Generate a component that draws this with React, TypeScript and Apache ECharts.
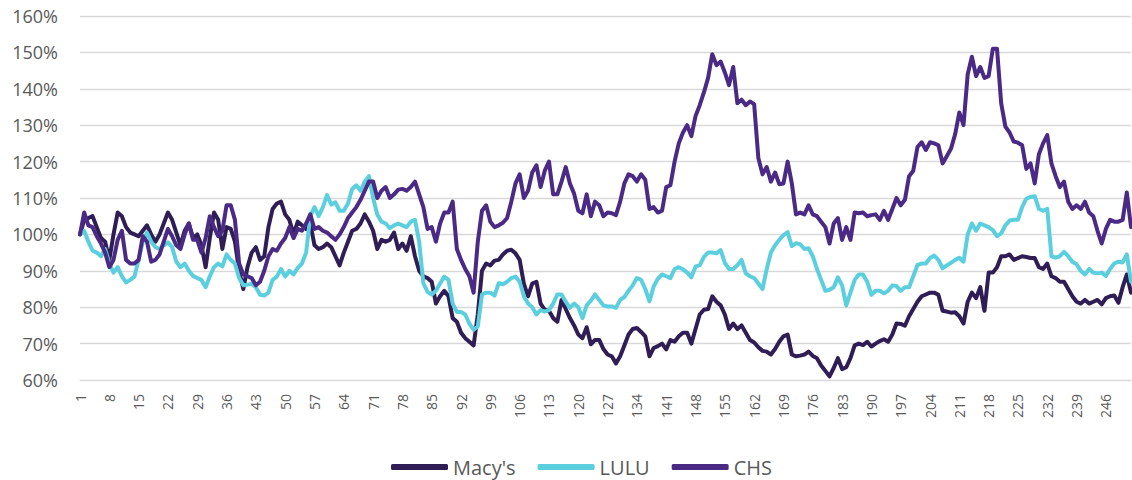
import React, { useEffect, useRef } from "react";
import * as echarts from "echarts";

const categories: string[] = Array.from({ length: 252 }, (_, i) => String(i + 1));

const macys: number[] = [
  100, 104, 104.5, 105, 102, 99, 98, 93, 100, 106,
  105, 102, 100.5, 100, 99.5, 101, 102.5, 100, 98, 100,
  103, 106, 104, 100.5, 97, 101, 103, 99, 100, 97,
  91, 99, 106, 104, 96, 102, 101.5, 98, 90, 85,
  91, 95, 96.5, 93, 94, 102, 107, 108.5, 109, 105.5,
  104, 100, 103.5, 102.5, 101.5, 103, 97, 96, 96.5, 97.5,
  96.5, 94, 91.5, 95, 98, 101, 101.5, 103, 105.5, 103.5,
  101, 96, 98.5, 98, 98.5, 100.5, 96, 97.5, 95.5, 99.5,
  94, 90, 88.5, 88, 87, 81, 83, 84.5, 83, 77,
  76, 73, 71.5, 70.5, 69.5, 78, 90, 92, 91.5, 92.8,
  93, 94.5, 95.5, 95.8, 94.8, 93, 86.5, 83, 86.5, 87,
  81, 79.3, 79, 77, 76, 82, 79.5, 77, 75, 72.5,
  71.5, 74.5, 69.8, 71, 71, 68.5, 67, 66.5, 64.5, 66.5,
  69.5, 72.5, 74, 74.3, 73.2, 72, 66.5, 68.8, 69.3, 70,
  68.4, 71, 70.5, 72, 73, 73, 70, 74, 78, 79.3,
  79.5, 83, 81.5, 80.5, 78, 74, 75.5, 74, 75, 73,
  71, 70.3, 69, 68, 67.8, 67, 68.5, 70.5, 72, 72.5,
  67, 66.5, 66.7, 67, 67.8, 66.6, 66, 64, 62.5, 61,
  63.3, 66, 63, 63.5, 66, 69.5, 70, 69.6, 70.5, 69.2,
  70, 70.7, 71.2, 70.5, 72.5, 75.5, 75.4, 74.9, 77.5, 79.5,
  81.5, 83, 83.5, 84, 84, 83.4, 79, 78.8, 78.5, 78.6,
  77.5, 75.5, 81.5, 84, 82.5, 85.5, 79, 89.5, 89.5, 91,
  94, 94, 94.5, 93, 93.5, 94, 93.8, 93.5, 93.5, 91,
  90.5, 92, 88.5, 88, 87, 87, 85, 83, 81.5, 81,
  82, 81, 81.5, 82, 80.8, 82.5, 83, 83.2, 81.2, 85.5,
  89, 84
];

const lulu: number[] = [
  100, 101, 98, 95.5, 95, 94, 96, 92, 89.5, 91,
  88.5, 86.8, 87.5, 88.4, 93, 98, 100.5, 98, 96.5, 96,
  97, 97.8, 96.5, 92.5, 91, 92, 90, 88.6, 88, 87.5,
  85.5, 88.5, 91, 92, 91.2, 94.5, 93, 92, 88, 86,
  86.2, 86.4, 85.5, 83.4, 83.2, 84, 87.5, 88.4, 90.5, 88.4,
  90, 89, 90.8, 92, 95, 105, 107.5, 105, 107.5, 110.8,
  108.2, 108.8, 106.5, 106.5, 108.5, 112.5, 113.5, 112, 114.5, 116,
  110, 105.5, 103.5, 103, 101.7, 102.5, 103, 102.5, 102, 103.5,
  104, 98, 86.6, 84.2, 83.5, 84.5, 86.5, 88.4, 87.5, 81,
  78.7, 78.7, 78, 75.5, 73.8, 74.7, 83.5, 84, 84, 83.2,
  86.6, 86.3, 87, 88, 88.4, 87, 83, 81, 80, 78,
  79.2, 78.8, 79.2, 81, 83.5, 83.5, 81.5, 79.8, 81, 80,
  77, 80.5, 81.8, 83.5, 82, 80.5, 80.2, 80.2, 79.8, 82,
  82.8, 84.5, 86, 88, 87.5, 85, 81.6, 85.7, 87.8, 89,
  88.5, 88, 90.5, 91, 90.4, 89.5, 88.2, 91.2, 91.5, 93.8,
  95, 95, 94.8, 95.7, 92.2, 90.5, 90.5, 91.5, 93, 89.3,
  88.5, 88, 86.5, 85, 90.5, 95, 97, 98.5, 99.8, 100.6,
  96.8, 97.6, 97.3, 96, 96.2, 94, 90.5, 87.5, 84.5, 84.8,
  85.5, 88.2, 86, 80.5, 84, 87.5, 89, 89, 87, 83.4,
  84.5, 84.5, 83.8, 84.5, 86, 85.8, 84.5, 85.5, 85.5, 88.5,
  91.6, 92, 92, 93.5, 94.2, 93, 90.7, 91.5, 92.2, 93,
  93.6, 92.5, 100, 103, 101, 103, 102.5, 102, 101.2, 99.5,
  100.3, 102.5, 103.8, 104, 104, 107.5, 109.8, 110.3, 110.5, 107,
  106.5, 107, 94, 93.6, 94, 95.2, 94, 92.5, 91.8, 90,
  89, 90.5, 89.5, 89.3, 89.5, 88.6, 90.5, 92, 92.5, 92.3,
  94.5, 87
];

const chs: number[] = [
  100, 106, 102.5, 102, 99.5, 97.5, 95, 91, 93, 98.5,
  101, 93, 92, 92, 93, 99.5, 98, 92.5, 93, 94.5,
  98, 101.5, 99.5, 97, 96, 100, 103, 98.5, 98.5, 95,
  99, 105, 102, 99.5, 101, 108, 108, 104, 92, 89,
  88.5, 88, 86, 87, 90, 94, 96, 95.5, 97.5, 99,
  102, 99, 101.5, 101, 103, 105.5, 101.5, 102, 101, 100.5,
  99.5, 98.5, 100, 102, 104.5, 106, 107.5, 109.5, 112, 114.5,
  114.5, 110, 112, 113, 110, 111, 112.3, 112.5, 112, 113,
  114.5, 111, 107.5, 101.5, 102, 98, 103, 106, 106, 109,
  96, 93, 90.5, 88.5, 84, 98, 106.5, 108, 103.5, 102,
  102.5, 103.2, 104.5, 109, 114, 116.5, 110, 112, 117, 119,
  113, 117.5, 120, 111, 111, 114.5, 118.5, 114, 111.2, 106.5,
  105.8, 111, 105, 109, 108, 105, 106, 105.8, 105.3, 109,
  114, 116.5, 116, 114.5, 116.5, 115, 107, 107.5, 106, 106.5,
  113, 113.5, 120, 125, 128, 130, 127, 132.5, 135.5, 139,
  143, 149.5, 146.5, 147.5, 144.5, 141, 146, 136, 137, 135.5,
  136.5, 135.8, 121, 116.5, 118.5, 114.5, 117, 113.8, 114, 120,
  114, 105.5, 106, 105.5, 108, 105.5, 105, 103.5, 102, 97.5,
  103, 104.5, 98.5, 102, 98.5, 106, 105.8, 106, 105, 105.3,
  105.5, 104, 106.5, 104, 107, 110, 108, 109.5, 116, 117.5,
  124, 125.3, 123.2, 125.3, 125, 124.5, 119.5, 121.5, 123.5, 127.5,
  133.5, 130, 144, 148.8, 143.5, 146, 143, 143.5, 151, 151,
  136, 129.6, 128, 125.5, 125.2, 124.5, 118, 119.5, 114, 122,
  125, 127.3, 119.5, 116, 113, 114.5, 109, 107, 108, 107,
  109, 106, 105, 101, 97.5, 101.5, 104, 103.5, 103.5, 104,
  111.5, 102
];

const seriesNames = ["Macy's", "LULU", "CHS"];
const seriesColors = ["#2f1e55", "#5ccfde", "#4b2a86"];
const yTicks = { min: 60, max: 160, interval: 10 };

const FONT = "'Open Sans', 'Noto Sans', sans-serif";

export default function App() {
  const ref = useRef<HTMLDivElement>(null);
  useEffect(() => {
    if (!ref.current) return;
    const chart = echarts.init(ref.current, undefined, { renderer: "svg" });
    const dataSets = [macys, lulu, chs];
    chart.setOption({
      animation: false,
      textStyle: { fontFamily: FONT },
      grid: { left: 80, right: 1, top: 16, bottom: 100, containLabel: false },
      legend: {
        data: seriesNames,
        top: 450,
        left: 386,
        icon: "roundRect",
        itemWidth: 57,
        itemHeight: 6,
        itemGap: 22,
        textStyle: { color: "#595959", fontSize: 20, lineHeight: 24, fontFamily: FONT },
      },
      xAxis: {
        type: "category",
        data: categories,
        boundaryGap: false,
        axisLine: { show: true, lineStyle: { color: "#d9d9d9", width: 1 } },
        axisTick: { show: false },
        axisLabel: {
          interval: 6,
          rotate: 90,
          color: "#595959",
          fontSize: 14,
          margin: 14,
          fontFamily: FONT,
        },
        splitLine: { show: false },
      },
      yAxis: {
        type: "value",
        min: yTicks.min,
        max: yTicks.max,
        interval: yTicks.interval,
        axisLine: { show: false },
        axisTick: { show: false },
        axisLabel: {
          formatter: "{value}%",
          color: "#595959",
          fontSize: 18,
          margin: 22,
          fontFamily: FONT,
        },
        splitLine: { lineStyle: { color: "#d9d9d9", width: 1.3 } },
      },
      series: seriesNames.map((name, k) => ({
        name,
        type: "line",
        data: dataSets[k],
        symbol: "none",
        color: seriesColors[k],
        lineStyle: { width: 4, color: seriesColors[k], join: "round", cap: "round" },
      })),
    });
    return () => chart.dispose();
  }, []);
  return (
    <div
      ref={ref}
      style={{ position: "absolute", left: 0, top: 0, width: 1132, height: 480 }}
    />
  );
}
